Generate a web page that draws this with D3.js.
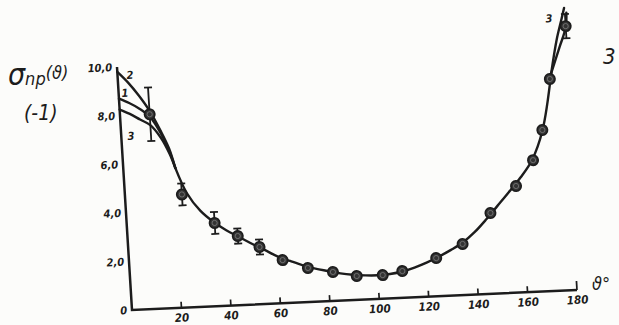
<!DOCTYPE html>
<html>
<head>
<meta charset="utf-8">
<script src="https://cdn.jsdelivr.net/npm/d3@7"></script>
<style>
  body { margin: 0; background: #fcfcfa; }
  svg { display: block; }
  .ink { fill: #1c1c1c; font-family: 'DejaVu Sans Condensed', 'DejaVu Sans', sans-serif; font-weight: bold; font-style: oblique; }
</style>
</head>
<body>
<div id="chart"></div>
<script>
// measured points: scattering angle (deg) and cross section
const angles = [12, 23, 35.5, 44.5, 53, 62, 72, 82, 91.5, 102, 110, 124, 135, 147, 158, 165.5, 170, 174.3, 182];
const sigmas = [8.0, 4.65, 3.42, 2.84, 2.35, 1.77, 1.40, 1.19, 0.98, 0.97, 1.10, 1.57, 2.10, 3.32, 4.38, 5.41, 6.63, 8.71, 10.85];
const errors = [1.1, 0.45, 0.45, 0.31, 0.31, 0, 0, 0, 0, 0, 0, 0, 0, 0, 0, 0, 0, 0, 0.5];

// common part of the calculated curves
const mainCurve = [[21, 5.75], [25, 4.7], [30, 3.95], [35, 3.47], [40, 3.1], [45, 2.8], [50, 2.5], [55, 2.22],
  [60, 1.93], [65, 1.72], [70, 1.52], [75, 1.36], [80, 1.24], [85, 1.12], [90, 1.04], [95, 0.99], [100, 0.97],
  [105, 1.0], [110, 1.08], [115, 1.22], [120, 1.4], [125, 1.62], [130, 1.87], [135, 2.15], [140, 2.55],
  [145, 3.05], [150, 3.6], [155, 4.15], [160, 4.72], [165, 5.4], [170, 6.6], [175, 8.95]];
// forward-angle branches 1, 2, 3
const branch1 = [[0, 8.7], [4, 8.5], [8, 8.25], [12, 7.9], [16, 7.2], [19, 6.45], [21, 5.75]];
const branch2 = [[0, 9.8], [4, 9.35], [8, 8.8], [12, 8.15], [16, 7.3], [19, 6.55], [21, 5.75]];
const branch3 = [[0, 8.25], [4, 8.05], [8, 7.8], [12, 7.55], [16, 7.0], [19, 6.35], [21, 5.75]];
// backward-angle branches
const backBranch12 = [[175, 8.95], [179, 10.0], [182, 10.8], [182.6, 11.4]];
const backBranch3 = [[175, 8.95], [178, 10.3], [180.5, 11.15], [181.8, 11.6]];

const xTicks = [20, 40, 60, 80, 100, 120, 140, 160, 180];
const yTicks = [0, 2, 4, 6, 8, 10];
const branchLabels = [
  { text: '2', a: 5.0, s: 9.65 },
  { text: '1', a: 2.6, s: 8.92 },
  { text: '3', a: 3.9, s: 7.15 },
  { text: '3', a: 175.5, s: 11.2 }
];

const width = 619, height = 325;
const xLen = 445.45, yLen = 243.46;

const svg = d3.select('#chart').append('svg')
  .attr('width', width)
  .attr('height', height);

svg.append('rect').attr('width', width).attr('height', height).attr('fill', '#fcfcfa');

// the hand drawn frame is slightly tilted: both axes lean a few degrees
const plot = svg.append('g')
  .attr('transform', 'matrix(0.99899,-0.0449,0.0616,0.9981,132,310)');

const x = d3.scaleLinear().domain([0, 180]).range([0, xLen]);
const y = d3.scaleLinear().domain([0, 10]).range([0, -yLen]);

const ink = '#1c1c1c';

// axes
plot.append('path')
  .attr('d', d3.line()([[x(0), y(10)], [x(0), y(0)], [x(180), y(0)]]))
  .attr('fill', 'none')
  .attr('stroke', ink)
  .attr('stroke-width', 2.5)
  .attr('stroke-linejoin', 'miter');

plot.selectAll('.xtick')
  .data(xTicks)
  .enter().append('line')
  .attr('class', 'xtick')
  .attr('x1', (d) => x(d)).attr('x2', (d) => x(d))
  .attr('y1', 0).attr('y2', (d) => d === 180 ? -9 : -6)
  .attr('stroke', ink)
  .attr('stroke-width', 1.7);

plot.selectAll('.xlabel')
  .data(xTicks)
  .enter().append('text')
  .attr('class', 'ink')
  .attr('x', (d) => x(d))
  .attr('y', 14)
  .attr('text-anchor', 'middle')
  .attr('font-size', 11.5)
  .text((d) => d);

plot.selectAll('.ylabel')
  .data(yTicks)
  .enter().append('text')
  .attr('class', 'ink')
  .attr('x', -5)
  .attr('y', (d) => y(d) + 4)
  .attr('text-anchor', 'end')
  .attr('font-size', 11)
  .text((d) => d === 0 ? '0' : d.toFixed(1).replace('.', ','));

// curves
const line = d3.line()
  .x((d) => x(d[0]))
  .y((d) => y(d[1]))
  .curve(d3.curveCatmullRom);

[mainCurve, branch1, branch2, branch3, backBranch12, backBranch3].forEach((c) => {
  plot.append('path')
    .datum(c)
    .attr('d', line)
    .attr('fill', 'none')
    .attr('stroke', ink)
    .attr('stroke-width', 2.4)
    .attr('stroke-linecap', 'round');
});

plot.selectAll('.branch-label')
  .data(branchLabels)
  .enter().append('text')
  .attr('class', 'ink')
  .attr('x', (d) => x(d.a))
  .attr('y', (d) => y(d.s) + 4)
  .attr('text-anchor', 'middle')
  .attr('font-size', 11)
  .text((d) => d.text);

// error bars
const points = angles.map((a, i) => ({ a: a, s: sigmas[i], e: errors[i] }));
const withErr = points.filter((p) => p.e > 0);

plot.selectAll('.err')
  .data(withErr)
  .enter().append('line')
  .attr('x1', (p) => x(p.a)).attr('x2', (p) => x(p.a))
  .attr('y1', (p) => y(p.s - p.e)).attr('y2', (p) => y(p.s + p.e))
  .attr('stroke', ink)
  .attr('stroke-width', 1.8);

[1, -1].forEach((sign) => {
  plot.selectAll('.cap' + sign)
    .data(withErr)
    .enter().append('line')
    .attr('x1', (p) => x(p.a) - 4).attr('x2', (p) => x(p.a) + 4)
    .attr('y1', (p) => y(p.s + sign * p.e)).attr('y2', (p) => y(p.s + sign * p.e))
    .attr('stroke', ink)
    .attr('stroke-width', 1.8);
});

// data points
plot.selectAll('.pt')
  .data(points)
  .enter().append('circle')
  .attr('cx', (p) => x(p.a))
  .attr('cy', (p) => y(p.s))
  .attr('r', 5.2)
  .attr('fill', '#333')
  .attr('stroke', ink)
  .attr('stroke-width', 1.6);

plot.selectAll('.pt-in')
  .data(points)
  .enter().append('circle')
  .attr('cx', (p) => x(p.a))
  .attr('cy', (p) => y(p.s))
  .attr('r', 2.6)
  .attr('fill', 'none')
  .attr('stroke', '#7a7a7a')
  .attr('stroke-width', 0.8);

// axis titles (page coordinates)
const yTitle = svg.append('text')
  .attr('class', 'ink')
  .attr('x', 8)
  .attr('y', 85)
  .style('font-weight', 'normal');
yTitle.append('tspan').attr('font-size', 30).text('σ');
yTitle.append('tspan').attr('font-size', 18).text('np');
yTitle.append('tspan').attr('font-size', 18).attr('dy', -6).text('(ϑ)');

svg.append('text')
  .attr('class', 'ink')
  .attr('x', 24)
  .attr('y', 120)
  .attr('font-size', 21)
  .style('font-weight', 'normal')
  .text('(-1)');

svg.append('text')
  .attr('class', 'ink')
  .attr('x', 592)
  .attr('y', 290)
  .attr('font-size', 18)
  .style('font-weight', 'normal')
  .text('ϑ°');

svg.append('text')
  .attr('class', 'ink')
  .attr('x', 603)
  .attr('y', 64)
  .attr('font-size', 22)
  .style('font-weight', 'normal')
  .text('3');
</script>
</body>
</html>
